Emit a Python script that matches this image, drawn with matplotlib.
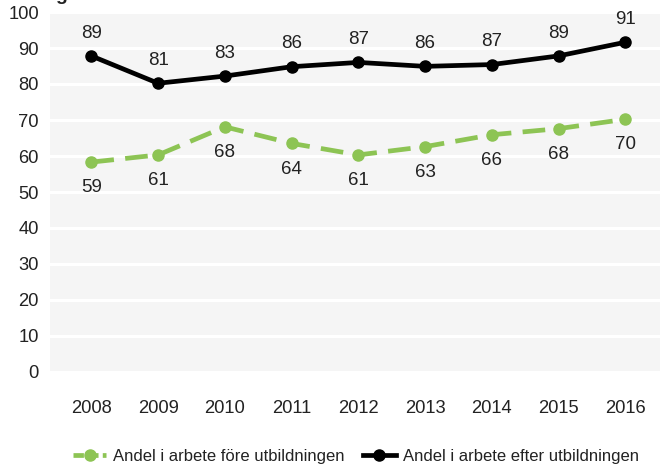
import matplotlib
matplotlib.use("Agg")
import matplotlib.pyplot as plt
from matplotlib.lines import Line2D

years = ["2008", "2009", "2010", "2011", "2012", "2013", "2014", "2015", "2016"]
fore_values = [58.3, 60.3, 68.1, 63.5, 60.3, 62.6, 65.9, 67.6, 70.2]
fore_labels = ["59", "61", "68", "64", "61", "63", "66", "68", "70"]
efter_values = [87.8, 80.2, 82.2, 84.8, 86.0, 84.9, 85.4, 87.8, 91.6]
efter_labels = ["89", "81", "83", "86", "87", "86", "87", "89", "91"]
series_names = ["Andel i arbete före utbildningen", "Andel i arbete efter utbildningen"]
yticks = [0, 10, 20, 30, 40, 50, 60, 70, 80, 90, 100]

plt.rcParams['font.family'] = ['Liberation Sans', 'DejaVu Sans']
text_color = "#222222"
green = "#8DC454"

fig = plt.figure(figsize=(6.65, 4.66), dpi=100)
ax = fig.add_axes([50/665, 1-372/466, 610/665, (372-12)/466])
ax.set_facecolor("#F5F5F5")

x = list(range(len(years)))
ax.plot(x, fore_values, color=green, lw=3.4, ls=(0, (4.8, 2.4)), marker='o', ms=8,
        zorder=3)
ax.plot(x, efter_values, color="black", lw=3.4, marker='o', ms=8, zorder=3)

for xi, v, l in zip(x, efter_values, efter_labels):
    ax.annotate(l, (xi, v), xytext=(0, 16.5), textcoords='offset points',
                ha='center', va='center', fontsize=13.5, color=text_color)
for xi, v, l in zip(x, fore_values, fore_labels):
    ax.annotate(l, (xi, v), xytext=(0, -18.5), textcoords='offset points',
                ha='center', va='center', fontsize=13.5, color=text_color)

ax.set_ylim(0, 100)
ax.set_xlim(-0.62, 8.52)
ax.set_yticks(yticks)
ax.set_xticks(x)
ax.set_xticklabels(years)
ax.yaxis.grid(True, color="white", lw=2.2)
ax.set_axisbelow(True)
for s in ax.spines.values():
    s.set_visible(False)
ax.tick_params(axis='both', length=0, labelsize=13.2, labelcolor=text_color)
ax.tick_params(axis='y', pad=8)
ax.tick_params(axis='x', pad=20)

handles = [
    Line2D([], [], color=green, lw=3.4, ls=(0, (2.2, 0.9)), marker='o', ms=8),
    Line2D([], [], color="black", lw=3.4, marker='o', ms=8),
]
leg = fig.legend(handles, series_names, loc='center', bbox_to_anchor=(0.535, 1-456/466),
                 ncol=2, frameon=False, fontsize=12.0, handlelength=2.0,
                 columnspacing=1.1, handletextpad=0.4, borderaxespad=0, borderpad=0)
for t in leg.get_texts():
    t.set_color(text_color)

fig.text(55/665, 1.0, "g", fontsize=14, fontweight='bold', ha='left', va='baseline',
         color=text_color)

fig.savefig("out.png", dpi=100)
